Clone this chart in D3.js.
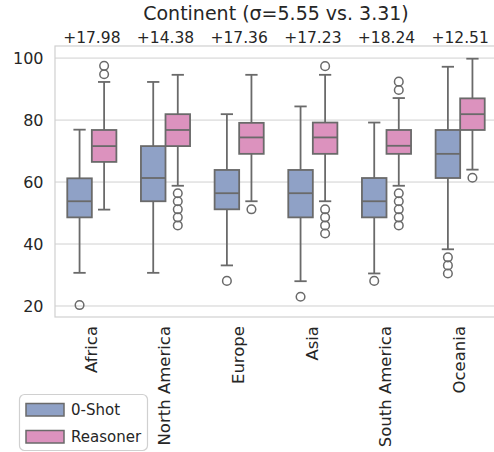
<!DOCTYPE html>
<html><head><meta charset="utf-8">
<script src="https://cdn.jsdelivr.net/npm/d3@7"></script>
<style>body{margin:0;background:#fff}svg{display:block}</style>
</head><body>
<script>
const categories = ["Africa","North America","Europe","Asia","South America","Oceania"];
const deltas = ["+17.98","+14.38","+17.36","+17.23","+18.24","+12.51"];
const series = ["0-Shot","Reasoner"];
// [whiskerLow, Q1, median, Q3, whiskerHigh]
const zeroShotStats = [
  [30.7,48.6,53.8,61.2,76.9],
  [30.7,53.8,61.3,71.6,92.3],
  [33.1,51.2,56.4,63.9,81.9],
  [28.0,48.6,56.4,63.9,84.4],
  [30.5,48.6,53.8,61.3,79.2],
  [38.3,61.3,69.1,76.8,97.2]
];
const zeroShotOutliers = [
  [20.3],
  [],
  [28.1],
  [23.0],
  [28.1],
  [35.7,33.1,30.5]
];
const reasonerStats = [
  [51.1,66.5,71.6,76.8,92.3],
  [58.8,71.6,76.8,81.9,94.6],
  [53.8,69.1,74.4,79.1,94.6],
  [53.8,69.1,74.4,79.2,94.6],
  [58.8,69.1,71.7,76.8,87.1],
  [64.0,76.8,81.9,87.0,99.8]
];
const reasonerOutliers = [
  [97.5,94.8],
  [56.4,53.8,51.2,48.6,46.0],
  [51.2],
  [97.4,51.2,48.6,46.0,43.4],
  [92.4,89.7,56.4,53.8,51.2,48.6,46.0],
  [61.4]
];
const yTicks = [20,40,60,80,100];
const title = "Continent (σ=5.55 vs. 3.31)";

const W=494,H=452;
const m={left:55,right:497,top:46,bottom:317};
const colors=["#8fa1c6","#dc92be"];
const edge="#6a6a6a";
const txt="#262626";

const svg=d3.select("body").append("svg").attr("width",W).attr("height",H);
const x=d3.scaleBand().domain(categories).range([m.left,m.right]);
const xs=d3.scaleBand().domain(series).range([0,x.bandwidth()]).paddingInner(0).paddingOuter(0.5);
const y=d3.scaleLinear().domain([16.45,103.9]).range([m.bottom,m.top]);

// grid
svg.append("g").selectAll("line").data(yTicks).join("line")
  .attr("x1",m.left).attr("x2",m.right).attr("y1",d=>y(d)).attr("y2",d=>y(d))
  .attr("stroke","#d0d0d0").attr("stroke-width",1);
// frame
svg.append("rect").attr("x",m.left).attr("y",m.top).attr("width",m.right-m.left).attr("height",m.bottom-m.top)
  .attr("fill","none").attr("stroke","#d0d0d0").attr("stroke-width",1.2);

// y axis labels
const yAxis=d3.axisLeft(y).tickValues(yTicks).tickSize(0).tickPadding(11.5);
const ga=svg.append("g").attr("transform",`translate(${m.left},0)`).call(yAxis);
ga.select(".domain").remove();
ga.selectAll("text").attr("font-family","DejaVu Sans").attr("font-size",16).attr("fill",txt);

// x axis labels
const xAxis=d3.axisBottom(x).tickSize(0).tickPadding(0);
const gx=svg.append("g").attr("transform",`translate(0,${m.bottom})`).call(xAxis);
gx.select(".domain").remove();
gx.selectAll("text").attr("font-family","DejaVu Sans").attr("font-size",16.5).attr("fill",txt)
  .attr("transform","rotate(-90)").attr("text-anchor","end").attr("x",-9).attr("y",-1).attr("dy","0.35em");

// boxes
const bw=xs.bandwidth();
const allStats=[zeroShotStats,reasonerStats];
const allOut=[zeroShotOutliers,reasonerOutliers];
series.forEach((s,si)=>{
  categories.forEach((c,ci)=>{
    const st=allStats[si][ci];
    const x0=x(c)+xs(s), xc=x0+bw/2;
    const g=svg.append("g");
    const capw=bw/2;
    g.append("line").attr("x1",xc).attr("x2",xc).attr("y1",y(st[0])).attr("y2",y(st[1])).attr("stroke",edge).attr("stroke-width",1.8);
    g.append("line").attr("x1",xc).attr("x2",xc).attr("y1",y(st[3])).attr("y2",y(st[4])).attr("stroke",edge).attr("stroke-width",1.8);
    g.append("line").attr("x1",xc-capw/2).attr("x2",xc+capw/2).attr("y1",y(st[0])).attr("y2",y(st[0])).attr("stroke",edge).attr("stroke-width",1.8);
    g.append("line").attr("x1",xc-capw/2).attr("x2",xc+capw/2).attr("y1",y(st[4])).attr("y2",y(st[4])).attr("stroke",edge).attr("stroke-width",1.8);
    g.append("rect").attr("x",x0).attr("width",bw).attr("y",y(st[3])).attr("height",y(st[1])-y(st[3]))
      .attr("fill",colors[si]).attr("stroke",edge).attr("stroke-width",1.8);
    g.append("line").attr("x1",x0).attr("x2",x0+bw).attr("y1",y(st[2])).attr("y2",y(st[2])).attr("stroke",edge).attr("stroke-width",1.8);
    g.selectAll("circle").data(allOut[si][ci]).join("circle")
      .attr("cx",xc).attr("cy",d=>y(d)).attr("r",4.3).attr("fill","none").attr("stroke",edge).attr("stroke-width",1.5);
  });
});

// delta labels
svg.append("g").selectAll("text").data(categories).join("text")
  .attr("x",d=>x(d)+x.bandwidth()/2).attr("y",42.5).attr("text-anchor","middle")
  .attr("font-family","DejaVu Sans").attr("font-size",15.5).attr("fill",txt)
  .text((d,i)=>deltas[i]);

// title
svg.append("text").attr("x",(m.left+m.right)/2).attr("y",20).attr("text-anchor","middle")
  .attr("font-family","DejaVu Sans").attr("font-size",19).attr("fill",txt).text(title);

// legend
const lg=svg.append("g");
lg.append("rect").attr("x",19.5).attr("y",394.5).attr("width",128).attr("height",56).attr("rx",5)
  .attr("fill","#fff").attr("stroke","#d0d0d0").attr("stroke-width",1.2);
series.forEach((s,i)=>{
  lg.append("rect").attr("x",26).attr("y",403.5+i*27).attr("width",38).attr("height",12.5)
    .attr("fill",colors[i]).attr("stroke",edge).attr("stroke-width",1.5);
  lg.append("text").attr("x",71).attr("y",415+i*27).attr("font-family","DejaVu Sans").attr("font-size",15)
    .attr("fill",txt).text(s);
});
</script>
</body></html>
